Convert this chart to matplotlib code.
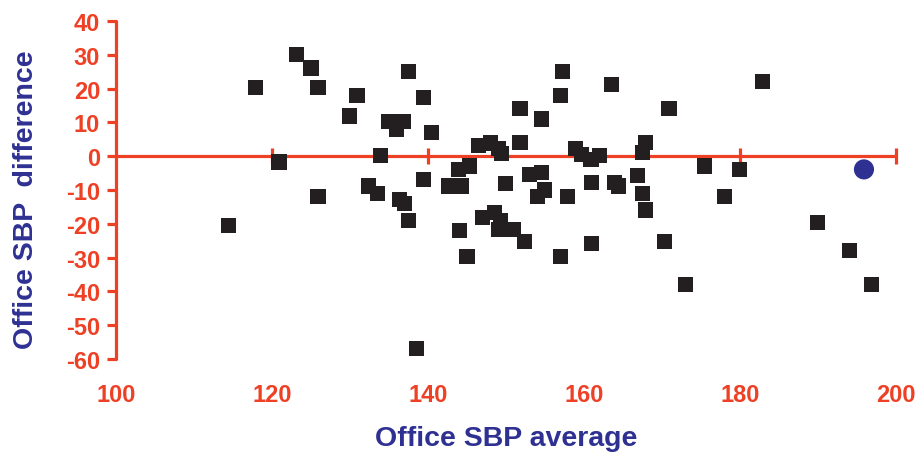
import matplotlib
matplotlib.use('Agg')
import matplotlib.pyplot as plt

plt.rcParams['font.family'] = ['Liberation Sans', 'DejaVu Sans']
plt.rcParams['font.weight'] = 'bold'
plt.rcParams['axes.unicode_minus'] = False

# office SBP average vs difference
sbp_avg = [117.9, 123.1, 125.0, 125.9, 130.9, 129.9, 134.9, 136.0, 136.9, 133.9,
           120.9, 132.4, 133.5, 125.9, 114.4, 137.5, 139.4, 140.4, 157.3, 157.0,
           163.5, 170.9, 151.8, 154.5, 151.8, 146.5, 148.0, 149.0, 149.4, 158.9,
           159.7, 160.9, 162.0, 167.9, 167.5, 143.9, 145.3, 139.4, 142.6, 144.3,
           150.0, 153.0, 154.6, 154.9, 154.0, 157.9, 161.0, 163.9, 164.4, 166.9,
           167.5, 167.9, 136.4, 137.0, 137.5, 144.0, 147.0, 148.5, 149.3, 149.0,
           150.9, 152.4, 145.0, 157.0, 161.0, 170.3, 138.5, 175.5, 179.9, 178.0,
           190.0, 194.0, 196.9, 173.0, 182.9]
sbp_diff = [20.4, 30.0, 26.1, 20.4, 18.1, 11.9, 10.2, 8.0, 10.2, 0.1,
            -1.7, -8.8, -11.0, -11.8, -20.6, 25.2, 17.3, 7.0, 25.2, 18.1,
            21.1, 14.1, 14.1, 11.0, 4.1, 3.3, 3.9, 2.4, 0.9, 2.4,
            0.4, -1.1, 0.1, 4.1, 1.1, -3.9, -2.9, -7.0, -8.8, -8.8,
            -8.0, -5.5, -4.8, -10.0, -11.9, -11.9, -7.8, -7.8, -8.8, -5.6,
            -11.0, -15.9, -12.7, -14.0, -18.9, -21.9, -18.2, -16.7, -18.9, -21.8,
            -21.8, -25.1, -29.8, -29.8, -25.9, -25.1, -56.9, -2.9, -3.9, -11.8,
            -19.6, -27.8, -37.9, -37.9, 22.1]

# highlighted point
hl_avg = [195.9]
hl_diff = [-3.9]

x_ticks = [100, 120, 140, 160, 180, 200]
y_ticks = [-60, -50, -40, -30, -20, -10, 0, 10, 20, 30, 40]

red = '#EE4024'
navy = '#2E3192'

fig = plt.figure(figsize=(9.19, 4.56), dpi=100)
ax = fig.add_axes([0.1262, 0.2105, 0.8487, 0.7412])

ax.scatter(sbp_avg, sbp_diff, marker='s', s=118, color='#231F20',
           edgecolors='none', zorder=3, clip_on=False)
ax.scatter(hl_avg, hl_diff, marker='o', s=210, color=navy,
           edgecolors='none', zorder=3, clip_on=False)

ax.set_xlim(100, 200)
ax.set_ylim(-60, 40)

for s in ['top', 'right']:
    ax.spines[s].set_visible(False)
ax.spines['bottom'].set_position(('data', 0))
for s in ['left', 'bottom']:
    ax.spines[s].set_color(red)
    ax.spines[s].set_linewidth(2.3)
    ax.spines[s].set_capstyle('round')

ax.set_xticks(x_ticks[1:])
ax.tick_params(axis='x', direction='inout', length=11, width=2.3,
               color=red, labelbottom=False)
ax.set_yticks(y_ticks)
ax.tick_params(axis='y', direction='out', length=6.5, width=2.3,
               color=red, labelcolor=red, labelsize=17, pad=5)

# tick labels of x sit under the plot, not at the zero line
sec = ax.secondary_xaxis('bottom')
sec.set_xticks(x_ticks)
sec.spines['bottom'].set_visible(False)
sec.tick_params(length=0, pad=17, labelcolor=red, labelsize=17)

ax.set_ylabel('Office SBP  difference', color=navy, fontsize=20.5,
              fontweight='bold')
ax.yaxis.set_label_coords(-0.099, 0.473)
ax.set_xlabel('Office SBP average', color=navy, fontsize=20.5,
              fontweight='bold')
ax.xaxis.set_label_coords(0.5, -0.195)

fig.savefig('out.png', dpi=100)
